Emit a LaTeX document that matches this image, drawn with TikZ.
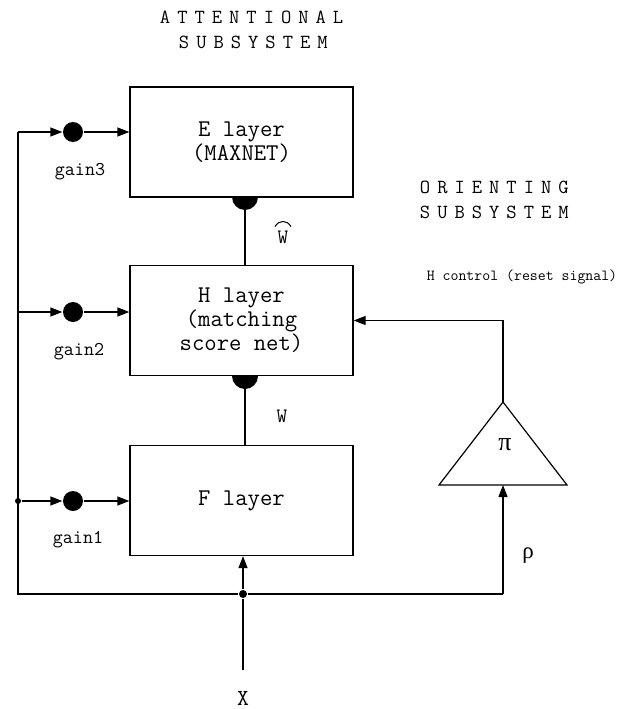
\documentclass[tikz,border=0pt]{standalone}
\usepackage{fontspec}
\newfontfamily\grkfont{Liberation Serif}
\usetikzlibrary{arrows.meta,calc}
% letter-spaced headings
\newcommand\lsk{\kern7pt}

\begin{document}
\begin{tikzpicture}[x=1pt,y=-1pt,line width=1.3pt,
  layer/.style={draw,minimum width=223pt,minimum height=110pt,inner sep=0pt,
    font=\ttfamily\fontsize{24}{24}\selectfont,align=center},
  gaindot/.style={circle,fill,minimum width=20pt,minimum height=19pt,inner sep=0pt},
  jdot/.style={circle,fill,minimum size=8pt,inner sep=0pt},
  sig/.style={-{Triangle[length=12pt,width=9pt]}},
  gainlbl/.style={font=\ttfamily\fontsize{19.5}{20}\selectfont},
  sublbl/.style={font=\ttfamily\fontsize{20.5}{20}\selectfont},
  title/.style={font=\ttfamily\fontsize{20}{25}\selectfont,anchor=west},
  greek/.style={font=\grkfont\fontsize{26}{28}\selectfont}]

\useasboundingbox (0,0) rectangle (622,709);

% subsystem headings
\node[title] (att1) at (156,17) {A\lsk T\lsk T\lsk E\lsk N\lsk T\lsk I\lsk O\lsk N\lsk A\lsk L};
\node[title] (att2) at (175,42) {S\lsk U\lsk B\lsk S\lsk Y\lsk S\lsk T\lsk E\lsk M};
\node[title] (ori1) at (416,187) {O\lsk R\lsk I\lsk E\lsk N\lsk T\lsk I\lsk N\lsk G};
\node[title] (ori2) at (416,212) {S\lsk U\lsk B\lsk S\lsk Y\lsk S\lsk T\lsk E\lsk M};
\node[font=\ttfamily\fontsize{15.4}{16}\selectfont] (hctl) at (522,277) {H control (reset signal)};

% the three layers
\node[layer] (E) at (241.5,142) {E layer\\(MAXNET)};
\node[layer] (H) at (241.5,320.5) {H layer\\(matching\\score net)};
\node[layer] (F) at (241.5,500.5) {F layer};

% weight connections with half-disc terminals
\coordinate (eb) at (245,197);
\coordinate (hb) at (245,376);
\coordinate (ht) at (245,265);
\coordinate (ft) at (245,446);
\draw (eb) -- (ht);
\draw (hb) -- (ft);
\fill (eb) ++(-13,0) arc (180:0:13) -- cycle;
\fill (hb) ++(-13,0) arc (180:0:13) -- cycle;
\node[sublbl] (What) at (283,237) {W};
\draw[line width=1pt] ($(What.north)+(-8,0)$) .. controls ($(What.north)+(-4,-7)$) and ($(What.north)+(4,-7)$) .. ($(What.north)+(8,0)$);
\node[sublbl] (Wl) at (282,416) {W};

% gain control channels
\coordinate (busT) at (18,132);
\coordinate (busM) at (18,312);
\coordinate (busB) at (18,501);
\coordinate (busC) at (18,594);
\node[gaindot] (g3) at (73,132) {};
\node[gaindot] (g2) at (73,312) {};
\node[gaindot] (g1) at (73,501) {};
\node[jdot,minimum size=6pt] (jl) at (busB) {};
\node[gainlbl] (lg3) at (80,172) {gain3};
\node[gainlbl] (lg2) at (79,352) {gain2};
\node[gainlbl] (lg1) at (78,540) {gain1};
\draw[sig] (busT) -- (g3);
\draw[sig] (busM) -- (g2);
\draw[sig] (jl) -- (g1);
\draw[sig] (g3) -- (E.west |- g3);
\draw[sig] (g2) -- (H.west |- g2);
\draw[sig] (g1) -- (F.west |- g1);

% input X and its distribution
\node[jdot] (jx) at (243,594) {};
\node[font=\ttfamily\fontsize{23}{24}\selectfont] (X) at (243,698) {X};
\coordinate (xin) at (243,670);
\draw (xin) -- (jx);
\draw[sig] (jx) -- (jx |- F.south);
\draw (busT) -- (busC) -- (jx);

% orienting subsystem: reset unit
\coordinate (apex) at (503,402);
\coordinate (bl) at (439,485);
\coordinate (br) at (567,485);
\coordinate (tin) at (503,485);
\draw[line width=1.2pt,line join=miter] (apex) -- (br) -- (bl) -- cycle;
\node[greek] (pi) at (505,445) {π};
\coordinate (rc) at (503,594);
\draw (jx) -- (rc);
\draw[sig] (rc) -- (tin);
\node[greek,font=\grkfont\fontsize{23}{24}\selectfont] (rho) at (528,556) {ρ};
\draw[sig] (apex) |- (H.east);
\end{tikzpicture}
\end{document}
